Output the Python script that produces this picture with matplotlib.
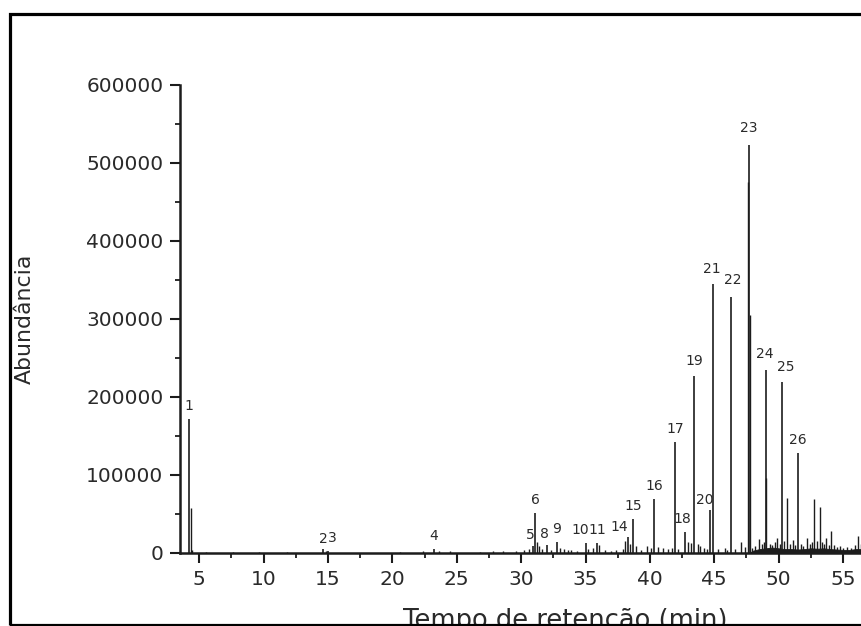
import matplotlib.pyplot as plt
from matplotlib.patches import Rectangle
from matplotlib.ticker import MultipleLocator

# identified peaks: retention time (min), abundance, label
peak_labels = ['1', '2', '3', '4', '5', '6', '8', '9', '10', '11', '14', '15', '16',
               '17', '18', '19', '20', '21', '22', '23', '24', '25', '26']
peak_times = [4.22, 14.6, 15.0, 23.2, 30.95, 31.1, 32.0, 32.75, 35.0, 35.9, 38.3, 38.7,
              40.35, 41.96, 42.75, 43.43, 44.67, 44.91, 46.3, 47.7, 49.02, 50.26, 51.51]
peak_heights = [171800, 5000, 3000, 4500, 9000, 51000, 10000, 14000, 13000, 13000, 20500,
                43600, 69000, 142000, 27000, 227000, 55000, 345000, 328000, 523000,
                235000, 219000, 128000]

# unlabelled signals
minor_times = [4.33, 4.45, 5.5, 7.6, 9.6, 11.8, 14.85, 20.6, 22.4, 23.6, 24.5, 26.8,
               27.8, 28.6, 29.6, 30.2, 30.6, 31.25, 31.4, 31.6, 32.3, 33.0, 33.3, 33.6,
               33.9, 34.3, 35.2, 35.6, 36.05, 36.5, 37.0, 37.4, 37.9, 38.1, 38.45, 38.9,
               39.3, 39.8, 40.1, 40.6, 41.0, 41.4, 41.7, 42.2, 42.95, 43.2, 43.7, 43.9,
               44.2, 44.4, 45.3, 45.8, 46.0, 46.6, 47.1, 47.4, 47.65, 47.75, 47.95, 48.2,
               48.5, 48.7, 48.85, 49.05, 49.3, 49.5, 49.7, 49.9, 50.1, 50.45, 50.65, 50.9,
               51.1, 51.3, 51.7, 51.9, 52.2, 52.45, 52.6, 52.75, 52.95, 53.2, 53.4, 53.55,
               53.7, 53.9, 54.1, 54.3, 54.55, 54.8, 55.0, 55.3, 55.6, 55.9, 56.2, 56.4]
minor_heights = [58000, 4000, 1500, 1500, 1200, 1500, 3000, 1500, 2000, 2500, 2000, 1500,
                 3000, 2500, 3000, 4000, 5000, 14000, 9000, 5000, 4000, 7000, 5000, 4000,
                 4000, 3000, 5000, 6000, 10000, 4000, 3000, 4000, 5000, 15000, 12000, 9000,
                 4000, 9000, 6000, 8000, 7000, 5000, 6000, 5000, 14000, 13000, 12000, 9000,
                 6000, 5000, 5000, 6000, 4000, 5000, 14000, 8000, 476000, 305000, 6000, 9000,
                 18000, 12000, 14000, 96000, 12000, 10000, 14000, 19000, 12000, 15000, 70000, 12000,
                 17000, 10000, 12000, 9000, 19000, 11000, 14000, 69000, 15000, 59000, 14000, 12000,
                 19000, 10000, 28000, 10000, 8000, 9000, 7000, 8000, 6000, 10000, 22000, 12000]

# unresolved hump under the late-eluting peaks
hump_times = [47.8, 48.0, 48.5, 49.0, 49.5, 50.0, 50.5, 51.0, 51.5, 52.0, 52.5, 53.0,
              53.5, 54.0, 54.5, 55.0, 55.5, 56.0, 56.5, 57.0]
hump_heights = [1000, 3000, 5000, 6000, 7000, 6000, 5000, 5000, 4500, 5000, 6000, 5500,
                6000, 5000, 4500, 4000, 4000, 5000, 5000, 4000]

# label nudges in points (dx, dy above peak top)
label_nudge = {'2': (0, 2), '3': (3, 4), '5': (-2, 3), '8': (-2, 3), '10': (-4, 4),
               '14': (-6, 2), '18': (-2, 4), '20': (-4, 2), '21': (-1, 6), '22': (1, 7),
               '23': (0, 7), '24': (-1, 6), '25': (3, 6), '19': (0, 6)}

ink = '#1c1c1c'
txt = '#2a2a2a'

fig = plt.figure(figsize=(8.62, 6.26), dpi=100)
ax = fig.add_axes([180 / 862, 73 / 626, 727.4 / 862, 468 / 626])

ax.fill_between(hump_times, 0, hump_heights, color=ink, lw=0.6)
ax.vlines(minor_times, 0, minor_heights, color=ink, lw=1.0)
ax.vlines(peak_times, 0, peak_heights, color=ink, lw=1.2)

for lab, t, h in zip(peak_labels, peak_times, peak_heights):
    dx, dy = label_nudge.get(lab, (0, 4.5))
    ax.annotate(lab, (t, h), xytext=(dx, dy), textcoords='offset points',
                ha='center', va='bottom', fontsize=10, color=txt)

ax.set_xlim(3.5, 60)
ax.set_ylim(0, 600000)
ax.set_xticks(range(5, 56, 5))
ax.xaxis.set_minor_locator(MultipleLocator(2.5))
ax.yaxis.set_major_locator(MultipleLocator(100000))
ax.yaxis.set_minor_locator(MultipleLocator(50000))
ax.ticklabel_format(style='plain', axis='y', useOffset=False)

for side in ['top', 'right']:
    ax.spines[side].set_visible(False)
for side in ['left', 'bottom']:
    ax.spines[side].set_linewidth(1.8)
    ax.spines[side].set_color(ink)

ax.tick_params(which='major', direction='out', length=7.5, width=1.5, color=ink,
               labelsize=14.5, labelcolor=txt, pad=4.5)
ax.tick_params(which='minor', direction='out', length=3.5, width=1.3, color=ink)

ax.set_ylabel('Abundância', fontsize=15.8, color=txt, labelpad=37)
ax.set_xlabel('Tempo de retenção (min)', fontsize=18.5, color=txt)
ax.xaxis.set_label_coords((565 - 180) / 727.4, -(608 - 553) / 468)

fig.patches.append(Rectangle((10 / 862, 1.5 / 626), 2.0, 610.5 / 626, transform=fig.transFigure,
                             fill=False, lw=2.3, ec='black', zorder=5))

fig.savefig('out.png', dpi=100)
